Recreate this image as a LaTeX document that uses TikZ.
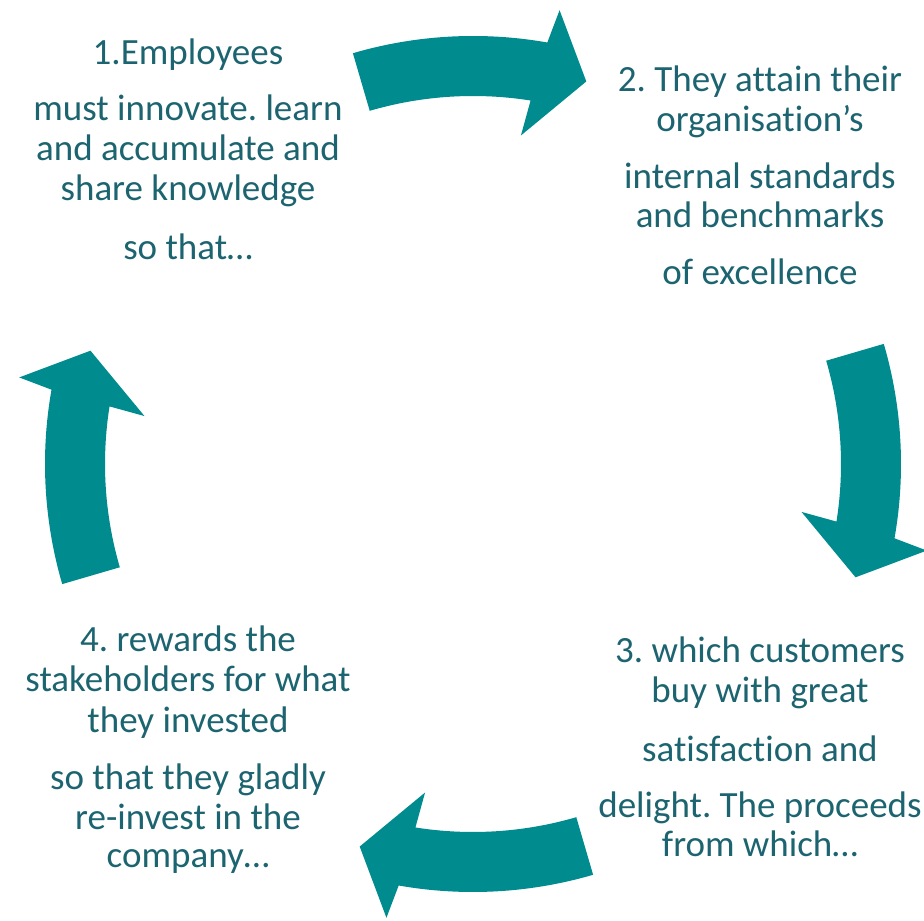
\documentclass[tikz,border=0pt]{standalone}
\usepackage{fontspec}
\setmainfont{Carlito}[Ligatures=NoCommon]
\frenchspacing
\definecolor{arrowteal}{RGB}{0,139,143}
\definecolor{textteal}{RGB}{28,100,112}
\tikzset{
  cyclearrow/.style={fill=arrowteal, draw=none},
  lbl/.style={anchor=base, inner sep=0pt, text=textteal,
    font=\fontsize{37}{40}\selectfont},
}
\begin{document}
\begin{tikzpicture}[x=1pt,y=1pt]
\useasboundingbox (0,0) rectangle (924,921);

% four curved arrows, rotated copies around the cycle centre
\coordinate (ctr) at (473,457);
\foreach \k in {0,1,2,3}{
  \begin{scope}[shift={(ctr)}, rotate=-90*\k]
    \fill[cyclearrow] (106.3:428) arc[start angle=106.3, end angle=80, radius=428]
      -- (79.2:462) -- (73.5:399) -- (81.7:332) -- (81:368)
      arc[start angle=81, end angle=106.3, radius=368] -- cycle;
  \end{scope}
}

% step 1
\node[lbl] (s1a) at (188,921-65)  {1.Employees};
\node[lbl] (s1b) at (188,921-121) {must innovate. learn};
\node[lbl] (s1c) at (188,921-161) {and accumulate and};
\node[lbl] (s1d) at (188,921-201) {share knowledge};
\node[lbl] (s1e) at (188,921-260) {so that…};

% step 2
\node[lbl] (s2a) at (760,921-92)  {2. They attain their};
\node[lbl] (s2b) at (760,921-132) {organisation’s};
\node[lbl] (s2c) at (760,921-189) {internal standards};
\node[lbl] (s2d) at (760,921-228) {and benchmarks};
\node[lbl] (s2e) at (760,921-285) {of excellence};

% step 3
\node[lbl] (s3a) at (760,921-663) {3. which customers};
\node[lbl] (s3b) at (760,921-703) {buy with great};
\node[lbl] (s3c) at (760,921-762) {satisfaction and};
\node[lbl] (s3d) at (760,921-818) {delight. The proceeds};
\node[lbl] (s3e) at (760,921-857) {from which…};

% step 4
\node[lbl] (s4a) at (188,921-652) {4. rewards the};
\node[lbl] (s4b) at (188,921-692) {stakeholders for what};
\node[lbl] (s4c) at (188,921-733) {they invested};
\node[lbl] (s4d) at (188,921-790) {so that they gladly};
\node[lbl] (s4e) at (188,921-830) {re-invest in the};
\node[lbl] (s4f) at (188,921-868) {company…};
\end{tikzpicture}
\end{document}
